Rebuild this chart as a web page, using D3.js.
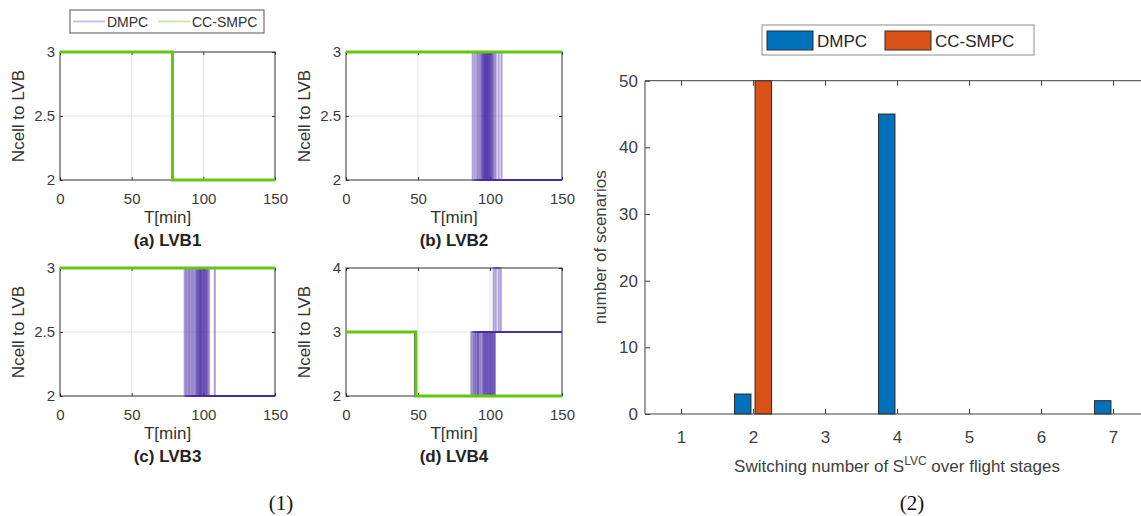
<!DOCTYPE html>
<html>
<head>
<meta charset="utf-8">
<script src="https://cdn.jsdelivr.net/npm/d3@7"></script>
<style>
  html, body { margin: 0; padding: 0; background: #fff; }
  svg { display: block; font-family: "Liberation Sans", Arial, Helvetica, sans-serif; }
</style>
</head>
<body>
<svg id="chart" width="1141" height="516"></svg>
<script>
// ---------------- DATA ----------------
// Left figure (1): number of cells connected to each LVB over time
const timeTicks = [0, 50, 100, 150];
const panelTitles = ["(a) LVB1", "(b) LVB2", "(c) LVB3", "(d) LVB4"];
const yTicksABC = [2, 2.5, 3];
const yTicksD = [2, 3, 4];

// CC-SMPC trajectories (step breakpoints [time, Ncell])
const ccsmpcLVB1 = [[0, 3], [78.5, 2], [150, 2]];
const ccsmpcLVB2 = [[0, 3], [150, 3]];
const ccsmpcLVB3 = [[0, 3], [150, 3]];
const ccsmpcLVB4 = [[0, 3], [48.5, 2], [150, 2]];

// DMPC scenario switching times
const dmpcLVB1Switch = [78.5, 78.5, 78.5, 78.5];
const dmpcLVB2Switch = [88, 89.5, 91, 92, 93, 94, 94.5, 95, 95.5, 96, 96, 96.5, 97, 97, 97.5, 98, 98, 98.5, 99, 99, 99.5, 100, 100.5, 101, 101.5, 102, 103, 104, 106, 108];
const dmpcLVB3Switch = [87, 88, 89, 90, 91, 92, 93, 94, 95, 95.5, 96, 96.5, 97, 97.5, 98, 98, 98.5, 99, 99.5, 100, 100.5, 101, 101.5, 102, 102.5, 103, 104, 108];
const dmpcLVB4Drop = 48.5;
const dmpcLVB4Rise = [87, 88, 89, 90, 91.5, 92, 93, 94, 95, 95.5, 96, 96.5, 97, 97.5, 98, 98.5, 99, 99.5, 100, 100.5, 101, 101.5, 102, 102.5, 103, 103.5];
const dmpcLVB4Spikes = [[102.5, 106], [104, 107.5]]; // [up to 4, back to 3]

// Right figure (2): histogram of switching numbers
const switchCategories = [1, 2, 3, 4, 5, 6, 7];
const dmpcCounts = [0, 3, 0, 45, 0, 0, 2];
const ccsmpcCounts = [0, 50, 0, 0, 0, 0, 0];
const countTicks = [0, 10, 20, 30, 40, 50];
const seriesNames = ["DMPC", "CC-SMPC"];

// ---------------- DRAW ----------------
const svg = d3.select("#chart");
const GREEN = "#66c414";
const PURPLE = "#4a2ca6";
const AXC = "#333333";

const panels = [
  {x0: 60, x1: 275, y0: 52, y1: 180, yDom: [2, 3], yTicks: yTicksABC},
  {x0: 346, x1: 562, y0: 52, y1: 180, yDom: [2, 3], yTicks: yTicksABC},
  {x0: 60, x1: 275, y0: 268, y1: 396, yDom: [2, 3], yTicks: yTicksABC},
  {x0: 346, x1: 562, y0: 268, y1: 396, yDom: [2, 4], yTicks: yTicksD}
];

function dmpcSeries(i) {
  if (i === 0) return dmpcLVB1Switch.map(t => [[0, 3], [t, 2], [150, 2]]);
  if (i === 1) return dmpcLVB2Switch.map(t => [[0, 3], [t, 2], [150, 2]]);
  if (i === 2) return dmpcLVB3Switch.map(t => [[0, 3], [t, 2], [150, 2]]);
  const s = dmpcLVB4Rise.map(t => [[0, 3], [dmpcLVB4Drop, 2], [t, 3], [150, 3]]);
  dmpcLVB4Spikes.forEach((sp, k) => s.push([[0, 3], [dmpcLVB4Drop, 2], [dmpcLVB4Rise[k + 3], 3], [sp[0], 4], [sp[1], 3], [150, 3]]));
  return s;
}
const ccsmpcSeries = [ccsmpcLVB1, ccsmpcLVB2, ccsmpcLVB3, ccsmpcLVB4];

panels.forEach((p, i) => {
  const x = d3.scaleLinear().domain([0, 150]).range([p.x0, p.x1]);
  const y = d3.scaleLinear().domain(p.yDom).range([p.y1, p.y0]);
  const g = svg.append("g");

  // grid
  g.selectAll(".gx").data(timeTicks.slice(1, -1)).join("line")
    .attr("x1", d => x(d)).attr("x2", d => x(d)).attr("y1", p.y0).attr("y2", p.y1)
    .attr("stroke", "#e3e3e3").attr("stroke-width", 1);
  g.selectAll(".gy").data(p.yTicks.slice(1, -1)).join("line")
    .attr("y1", d => y(d)).attr("y2", d => y(d)).attr("x1", p.x0).attr("x2", p.x1)
    .attr("stroke", "#e3e3e3").attr("stroke-width", 1);

  // axes
  const ax = g.append("g").attr("transform", `translate(0,${p.y1})`)
    .call(d3.axisBottom(x).tickValues(timeTicks).tickSizeInner(-3).tickSizeOuter(0).tickPadding(13));
  const ay = g.append("g").attr("transform", `translate(${p.x0},0)`)
    .call(d3.axisLeft(y).tickValues(p.yTicks).tickFormat(d3.format("~g")).tickSizeInner(-3).tickSizeOuter(0).tickPadding(5));
  const axt = g.append("g").attr("transform", `translate(0,${p.y0})`)
    .call(d3.axisTop(x).tickValues(timeTicks).tickSizeInner(-3).tickSizeOuter(0).tickFormat(""));
  const ayr = g.append("g").attr("transform", `translate(${p.x1},0)`)
    .call(d3.axisRight(y).tickValues(p.yTicks).tickSizeInner(-3).tickSizeOuter(0).tickFormat(""));
  [ax, ay, axt, ayr].forEach(a => {
    a.select(".domain").remove();
    a.selectAll("line").attr("stroke", AXC);
    a.selectAll("text").attr("font-size", 15).attr("fill", "#3a3a3a")
      .attr("font-family", "'Liberation Sans', Arial, sans-serif");
  });
  g.append("rect").attr("x", p.x0).attr("y", p.y0).attr("width", p.x1 - p.x0).attr("height", p.y1 - p.y0)
    .attr("fill", "none").attr("stroke", AXC).attr("stroke-width", 1);

  // lines
  const line = d3.line().x(d => x(d[0])).y(d => y(d[1])).curve(d3.curveStepAfter);
  g.selectAll(".dm").data(dmpcSeries(i)).join("path")
    .attr("d", line).attr("fill", "none").attr("stroke", PURPLE)
    .attr("stroke-width", 2).attr("stroke-opacity", 0.45);
  g.append("path").datum(ccsmpcSeries[i]).attr("d", line)
    .attr("fill", "none").attr("stroke", GREEN).attr("stroke-width", 3);

  // labels
  const cx = (p.x0 + p.x1) / 2;
  g.append("text").attr("x", cx).attr("y", p.y1 + 43).attr("text-anchor", "middle")
    .attr("font-size", 17).attr("fill", "#333").text("T[min]");
  g.append("text").attr("x", cx).attr("y", p.y1 + 66).attr("text-anchor", "middle")
    .attr("font-size", 17).attr("font-weight", "bold").attr("fill", "#222").text(panelTitles[i]);
  g.append("text").attr("transform", `translate(${p.x0 - 36},${(p.y0 + p.y1) / 2}) rotate(-90)`)
    .attr("text-anchor", "middle").attr("font-size", 17).attr("fill", "#333").text("Ncell to LVB");
});

// left legend
{
  const lg = svg.append("g");
  lg.append("rect").attr("x", 70).attr("y", 10).attr("width", 194).attr("height", 23)
    .attr("fill", "#fff").attr("stroke", "#555").attr("stroke-width", 1);
  lg.append("line").attr("x1", 73).attr("x2", 105).attr("y1", 21.5).attr("y2", 21.5)
    .attr("stroke", PURPLE).attr("stroke-opacity", 0.3).attr("stroke-width", 2);
  lg.append("text").attr("x", 107).attr("y", 26.5).attr("font-size", 14).attr("fill", "#333").text(seriesNames[0]);
  lg.append("line").attr("x1", 158).attr("x2", 190).attr("y1", 21.5).attr("y2", 21.5)
    .attr("stroke", GREEN).attr("stroke-opacity", 0.35).attr("stroke-width", 2);
  lg.append("text").attr("x", 192).attr("y", 26.5).attr("font-size", 14).attr("fill", "#333").text(seriesNames[1]);
}

// captions
svg.append("text").attr("x", 281).attr("y", 510).attr("text-anchor", "middle")
  .attr("font-family", "'Liberation Serif', 'Times New Roman', serif").attr("font-size", 21).attr("fill", "#111").text("(1)");
svg.append("text").attr("x", 912).attr("y", 510).attr("text-anchor", "middle")
  .attr("font-family", "'Liberation Serif', 'Times New Roman', serif").attr("font-size", 21).attr("fill", "#111").text("(2)");

// ---------------- Right bar chart ----------------
{
  const X0 = 645, X1 = 1149, Y0 = 80.7, Y1 = 414;
  const x = d3.scaleLinear().domain([0.5, 7.5]).range([X0, X1]);
  const y = d3.scaleLinear().domain([0, 50]).range([Y1, Y0]);
  const g = svg.append("g");
  const barW = 0.229, off = 0.143;
  const colors = ["#0072BD", "#D95319"];
  const series = [dmpcCounts, ccsmpcCounts];

  series.forEach((vals, s) => {
    g.selectAll(".b" + s).data(switchCategories.map((c, k) => ({c, v: vals[k]}))).join("rect")
      .attr("x", d => x(d.c + (s === 0 ? -off : off) - barW / 2))
      .attr("width", d => x(d.c + barW / 2) - x(d.c - barW / 2))
      .attr("y", d => y(d.v)).attr("height", d => y(0) - y(d.v))
      .attr("fill", colors[s])
      .attr("stroke", d => d.v > 0 ? "#2a2a2a" : "#9a9a9a").attr("stroke-width", 1);
  });

  const AX2 = "#404040";
  const ax = g.append("g").attr("transform", `translate(0,${Y1})`)
    .call(d3.axisBottom(x).tickValues(switchCategories).tickFormat(d3.format("d")).tickSizeInner(-5).tickSizeOuter(0).tickPadding(17));
  const axt = g.append("g").attr("transform", `translate(0,${Y0})`)
    .call(d3.axisTop(x).tickValues(switchCategories).tickSizeInner(-5).tickSizeOuter(0).tickFormat(""));
  const ay = g.append("g").attr("transform", `translate(${X0},0)`)
    .call(d3.axisLeft(y).tickValues(countTicks).tickSizeInner(-5).tickSizeOuter(0).tickPadding(7));
  [ax, axt, ay].forEach(a => {
    a.select(".domain").remove();
    a.selectAll("line").attr("stroke", AX2);
    a.selectAll("text").attr("font-size", 17).attr("fill", AX2)
      .attr("font-family", "'Liberation Sans', Arial, sans-serif");
  });
  g.append("line").attr("x1", X0).attr("x2", X1).attr("y1", Y1).attr("y2", Y1).attr("stroke", AX2);
  g.append("line").attr("x1", X0).attr("x2", X1).attr("y1", Y0).attr("y2", Y0).attr("stroke", AX2);
  g.append("line").attr("x1", X0).attr("x2", X0).attr("y1", Y0).attr("y2", Y1).attr("stroke", AX2);

  // axis labels
  const xl = g.append("text").attr("x", (X0 + X1) / 2).attr("y", 472).attr("text-anchor", "middle")
    .attr("font-size", 17).attr("fill", AX2);
  xl.append("tspan").text("Switching number of S");
  xl.append("tspan").attr("dy", -7).attr("font-size", 12).text("LVC");
  xl.append("tspan").attr("dy", 7).text(" over flight stages");
  g.append("text").attr("transform", `translate(606,${(Y0 + Y1) / 2}) rotate(-90)`)
    .attr("text-anchor", "middle").attr("font-size", 17).attr("fill", AX2).text("number of scenarios");

  // legend
  const lg = g.append("g");
  lg.append("rect").attr("x", 762).attr("y", 25).attr("width", 272).attr("height", 30)
    .attr("fill", "#fff").attr("stroke", "#8c8c8c").attr("stroke-width", 1);
  const lx = [767, 885];
  seriesNames.forEach((n, k) => {
    lg.append("rect").attr("x", lx[k]).attr("y", 31).attr("width", 46).attr("height", 19)
      .attr("fill", colors[k]).attr("stroke", "#2a2a2a").attr("stroke-width", 1);
    lg.append("text").attr("x", lx[k] + 50).attr("y", 47).attr("font-size", 17).attr("fill", "#262626").text(n);
  });
}
</script>
</body>
</html>
